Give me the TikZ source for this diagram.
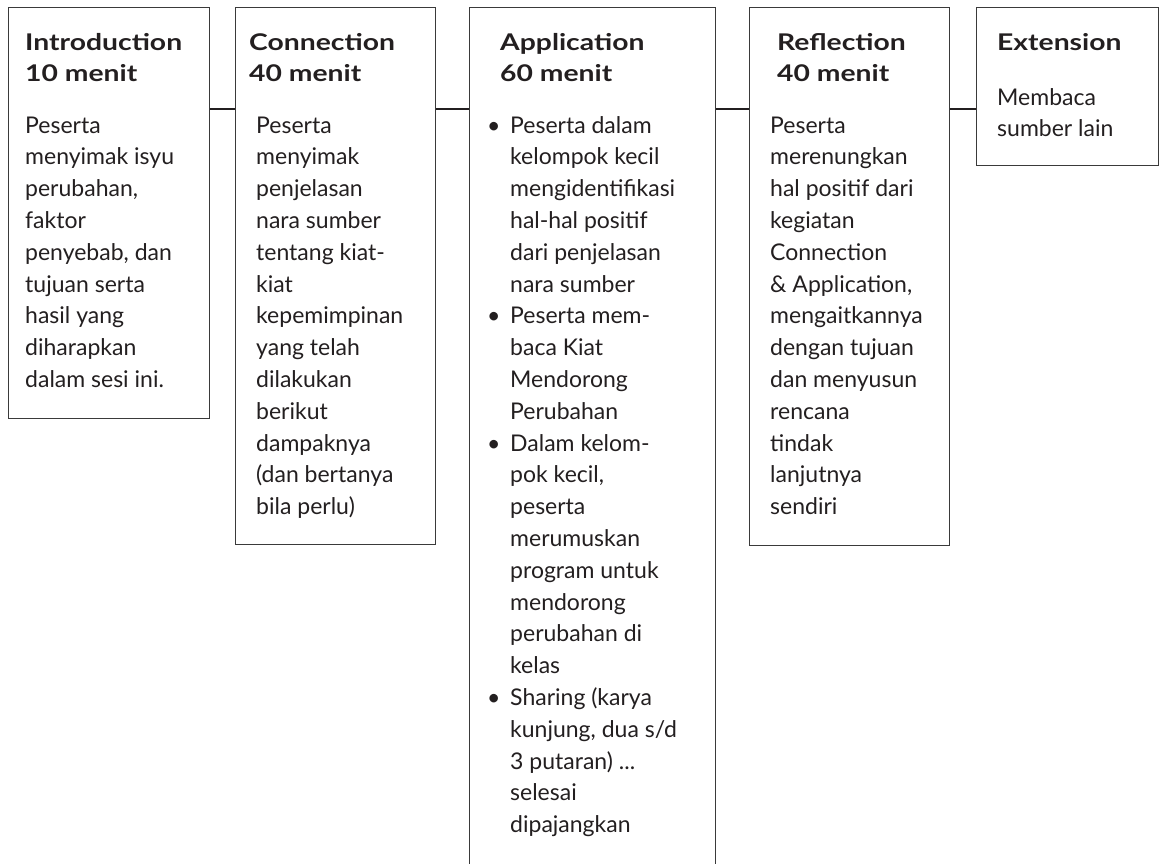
\documentclass[tikz,border=0pt]{standalone}
\usepackage{fontspec}
\setmainfont{Lato}
\newfontfamily\ttlfamily[FakeStretch=1.23]{Lato}
\usetikzlibrary{calc}
\definecolor{ink}{HTML}{231F20}
\definecolor{frame}{HTML}{3A3A3A}
\newcommand{\bodyfont}{\fontsize{23}{31.8}\selectfont}
\newcommand{\txtlines}[1]{\begin{tabular}[t]{@{}l@{}}#1\end{tabular}}
\newcommand{\bul}{\makebox[23pt][l]{\textbullet}}
\newcommand{\ind}{\hspace*{23pt}}
\begin{document}
\begin{tikzpicture}[x=1pt,y=-1pt,
  box/.style={draw=frame, line width=1.3pt, rectangle, inner sep=0pt, anchor=north west},
  link/.style={draw=ink, line width=2pt},
  txt/.style={inner sep=0pt, anchor=base west, text=ink, font=\bodyfont},
  ttl/.style={txt, font=\bodyfont\ttlfamily\bfseries}]
\useasboundingbox (0,0) rectangle (1165,863);

% boxes
\node[box, minimum width=201pt, minimum height=411pt] (intro) at (8,7) {};
\node[box, minimum width=200pt, minimum height=537pt] (conn) at (235,7) {};
\node[box, minimum width=246pt, minimum height=862pt] (appl) at (469,7) {};
\node[box, minimum width=200pt, minimum height=538pt] (refl) at (749,7) {};
\node[box, minimum width=182pt, minimum height=158pt] (ext) at (976,7) {};

% connectors
\coordinate (cy) at (0,108.5);
\draw[link] (intro.east |- cy) -- (conn.west |- cy);
\draw[link] (conn.east |- cy) -- (appl.west |- cy);
\draw[link] (appl.east |- cy) -- (refl.west |- cy);
\draw[link] (refl.east |- cy) -- (ext.west |- cy);

% titles
\node[ttl] (t1) at (25,50) {\txtlines{Introduction\\10 menit}};
\node[ttl] (t2) at (249,50) {\txtlines{Connection\\40 menit}};
\node[ttl] (t3) at (500,50) {\txtlines{Application\\60 menit}};
\node[ttl] (t4) at (777,50) {\txtlines{Reflection\\40 menit}};
\node[ttl] (t5) at (997,50) {\txtlines{Extension}};

% bodies
\node[txt] (b1) at (25,133) {\txtlines{Peserta\\menyimak isyu\\perubahan,\\faktor\\penyebab, dan\\tujuan serta\\hasil yang\\diharapkan\\dalam sesi ini.}};
\node[txt] (b2) at (256,133) {\txtlines{Peserta\\menyimak\\penjelasan\\nara sumber\\tentang kiat-\\kiat\\kepemimpinan\\yang telah\\dilakukan\\berikut\\dampaknya\\(dan bertanya\\bila perlu)}};
\node[txt] (b3) at (487,133) {\txtlines{\bul Peserta dalam\\\ind kelompok kecil\\\ind mengidentifikasi\\\ind hal-hal positif\\\ind dari penjelasan\\\ind nara sumber\\\bul Peserta mem-\\\ind baca Kiat\\\ind Mendorong\\\ind Perubahan\\\bul Dalam kelom-\\\ind pok kecil,\\\ind peserta\\\ind merumuskan\\\ind program untuk\\\ind mendorong\\\ind perubahan di\\\ind kelas\\\bul Sharing (karya\\\ind kunjung, dua s/d\\\ind 3 putaran) ...\\\ind selesai\\\ind dipajangkan}};
\node[txt] (b4) at (770,133) {\txtlines{Peserta\\merenungkan\\hal positif dari\\kegiatan\\Connection\\\& Application,\\mengaitkannya\\dengan tujuan\\dan menyusun\\rencana\\tindak\\lanjutnya\\sendiri}};
\node[txt] (b5) at (997,105) {\txtlines{Membaca\\sumber lain}};
\end{tikzpicture}
\end{document}
